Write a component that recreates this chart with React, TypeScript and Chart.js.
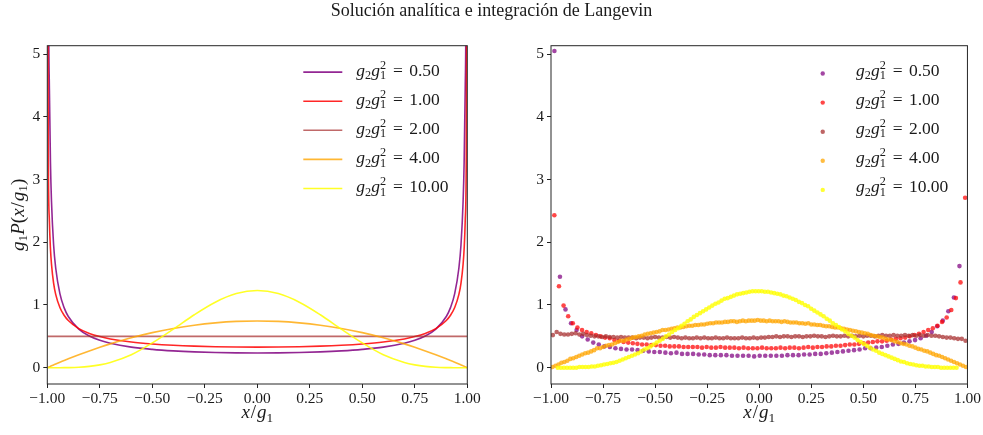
import React, { useEffect, useRef } from 'react';
import { Chart, registerables } from 'chart.js';

Chart.register(...registerables);

const FONT = '"Liberation Serif", "Times New Roman", serif';
const TEXT_COLOR = '#1a1a1a';

const TITLE = 'Solución analítica e integración de Langevin';
const G_VALUES = ['0.50', '1.00', '2.00', '4.00', '10.00'];
const LINE_COLORS = [
  'rgba(128,0,128,0.85)',
  'rgba(255,0,0,0.85)',
  'rgba(165,42,42,0.7)',
  'rgba(255,165,0,0.8)',
  'rgba(255,255,0,0.85)',
];
const DOT_COLORS = [
  'rgba(128,0,128,0.72)',
  'rgba(255,0,0,0.72)',
  'rgba(165,42,42,0.72)',
  'rgba(255,165,0,0.75)',
  'rgba(255,255,0,0.8)',
];

const X_TICKS_STEP = 0.25;
const Y_MIN = -0.26;
const Y_MAX = 5.135;

// ---------- Left panel: analytic solution (x grid + one value list per g2 g1^2) ----------
const LEFT_X = [
  -0.999, -0.995, -0.99, -0.985, -0.98, -0.97, -0.96, -0.94, -0.92, -0.9,
  -0.85, -0.8, -0.75, -0.7, -0.6, -0.5, -0.4, -0.3, -0.2, -0.1,
  0,
  0.1, 0.2, 0.3, 0.4, 0.5, 0.6, 0.7, 0.75, 0.8, 0.85,
  0.9, 0.92, 0.94, 0.96, 0.97, 0.98, 0.985, 0.99, 0.995, 0.999,
];
const AN_050 = [
  24.9, 7.45, 4.44, 3.28, 2.65, 1.96, 1.59, 1.18, 0.958, 0.817,
  0.615, 0.506, 0.437, 0.389, 0.328, 0.292, 0.268, 0.252, 0.242, 0.237,
  0.235,
  0.237, 0.242, 0.252, 0.268, 0.292, 0.328, 0.389, 0.437, 0.506, 0.615,
  0.817, 0.958, 1.18, 1.59, 1.96, 2.65, 3.28, 4.44, 7.45, 24.9,
];
const AN_100 = [
  7.34, 3.28, 2.33, 1.9, 1.65, 1.35, 1.17, 0.961, 0.837, 0.753,
  0.623, 0.547, 0.496, 0.459, 0.41, 0.379, 0.358, 0.344, 0.335, 0.33,
  0.328,
  0.33, 0.335, 0.344, 0.358, 0.379, 0.41, 0.459, 0.496, 0.547, 0.623,
  0.753, 0.837, 0.961, 1.17, 1.35, 1.65, 1.9, 2.33, 3.28, 7.34,
];
const AN_200 = [
  0.5, 0.5, 0.5, 0.5, 0.5, 0.5, 0.5, 0.5, 0.5, 0.5,
  0.5, 0.5, 0.5, 0.5, 0.5, 0.5, 0.5, 0.5, 0.5, 0.5,
  0.5,
  0.5, 0.5, 0.5, 0.5, 0.5, 0.5, 0.5, 0.5, 0.5, 0.5,
  0.5, 0.5, 0.5, 0.5, 0.5, 0.5, 0.5, 0.5, 0.5, 0.5,
];
const AN_400 = [
  0.0015, 0.0074, 0.0148, 0.0222, 0.0295, 0.044, 0.0584, 0.0867, 0.114, 0.142,
  0.207, 0.268, 0.326, 0.38, 0.477, 0.559, 0.626, 0.678, 0.715, 0.738,
  0.745,
  0.738, 0.715, 0.678, 0.626, 0.559, 0.477, 0.38, 0.326, 0.268, 0.207,
  0.142, 0.114, 0.0867, 0.0584, 0.044, 0.0295, 0.0222, 0.0148, 0.0074, 0.0015,
];
const AN_1000 = [
  0, 0, 0, 0, 0, 0, 0, 0.0002, 0.0007, 0.0016,
  0.0073, 0.021, 0.045, 0.083, 0.206, 0.395, 0.615, 0.845, 1.045, 1.182,
  1.23,
  1.182, 1.045, 0.845, 0.615, 0.395, 0.206, 0.083, 0.045, 0.021, 0.0073,
  0.0016, 0.0007, 0.0002, 0, 0, 0, 0, 0, 0, 0,
];

// ---------- Right panel: Langevin histograms (bin range + bin heights) ----------
const BINS_050 = [-0.997, 0.975];
const LV_050 = [
  5.05, 1.45, 0.93, 0.71, 0.6, 0.5, 0.45, 0.4, 0.37, 0.34,
  0.33, 0.31, 0.3, 0.29, 0.29, 0.28, 0.27, 0.26, 0.25, 0.25,
  0.24, 0.23, 0.24, 0.22, 0.22, 0.22, 0.21, 0.21, 0.2, 0.2,
  0.2, 0.2, 0.19, 0.19, 0.19, 0.19, 0.18, 0.19, 0.19, 0.19,
  0.19, 0.19, 0.2, 0.2, 0.2, 0.21, 0.21, 0.22, 0.22, 0.23,
  0.24, 0.25, 0.26, 0.27, 0.28, 0.29, 0.31, 0.31, 0.32, 0.33,
  0.35, 0.37, 0.38, 0.4, 0.42, 0.44, 0.47, 0.51, 0.57, 0.66,
  0.75, 0.9, 1.12, 1.62,
];
const BINS_100 = [-0.995, 1.0];
const LV_100 = [
  2.43, 1.3, 0.99, 0.82, 0.71, 0.64, 0.6, 0.57, 0.55, 0.52,
  0.5, 0.48, 0.47, 0.44, 0.43, 0.41, 0.4, 0.39, 0.38, 0.37,
  0.37, 0.36, 0.36, 0.35, 0.35, 0.34, 0.34, 0.34, 0.33, 0.33,
  0.33, 0.33, 0.32, 0.33, 0.32, 0.32, 0.33, 0.32, 0.32, 0.32,
  0.31, 0.32, 0.31, 0.31, 0.31, 0.32, 0.31, 0.31, 0.31, 0.32,
  0.31, 0.32, 0.32, 0.31, 0.32, 0.33, 0.32, 0.33, 0.33, 0.34,
  0.34, 0.35, 0.35, 0.36, 0.37, 0.37, 0.38, 0.39, 0.4, 0.41,
  0.42, 0.42, 0.43, 0.45, 0.46, 0.47, 0.48, 0.5, 0.52, 0.54,
  0.57, 0.6, 0.63, 0.67, 0.73, 0.8, 0.92, 1.11, 1.36, 2.71,
];
const BINS_200 = [-1, 1];
const LV_200 = [
  0.52, 0.57, 0.54, 0.53, 0.53, 0.54, 0.55, 0.53, 0.54, 0.52,
  0.51, 0.5, 0.5, 0.49, 0.5, 0.49, 0.49, 0.48, 0.49, 0.48,
  0.48, 0.48, 0.47, 0.48, 0.48, 0.47, 0.48, 0.49, 0.48, 0.48,
  0.49, 0.48, 0.49, 0.48, 0.47, 0.48, 0.47, 0.47, 0.48, 0.47,
  0.48, 0.47, 0.47, 0.48, 0.47, 0.47, 0.48, 0.47, 0.47, 0.47,
  0.48, 0.47, 0.47, 0.48, 0.47, 0.48, 0.48, 0.49, 0.49, 0.5,
  0.49, 0.5, 0.5, 0.49, 0.5, 0.5, 0.49, 0.5, 0.5, 0.51,
  0.5, 0.5, 0.49, 0.5, 0.51, 0.5, 0.5, 0.51, 0.5, 0.51,
  0.5, 0.51, 0.5, 0.51, 0.51, 0.5, 0.51, 0.52, 0.51, 0.51,
  0.52, 0.51, 0.51, 0.52, 0.51, 0.52, 0.51, 0.52, 0.51, 0.52,
  0.51, 0.51, 0.5, 0.49, 0.48, 0.48, 0.47, 0.46, 0.46, 0.43,
];
const BINS_400 = [-1, 1];
const LV_400 = [
  0.01, 0.03, 0.05, 0.08, 0.09, 0.11, 0.14, 0.15, 0.17, 0.19,
  0.21, 0.23, 0.24, 0.26, 0.28, 0.31, 0.31, 0.33, 0.35, 0.36,
  0.37, 0.39, 0.41, 0.43, 0.43, 0.45, 0.46, 0.48, 0.49, 0.5,
  0.51, 0.53, 0.54, 0.55, 0.56, 0.57, 0.58, 0.6, 0.6, 0.61,
  0.62, 0.63, 0.64, 0.64, 0.65, 0.66, 0.67, 0.67, 0.68, 0.68,
  0.69, 0.69, 0.7, 0.71, 0.71, 0.72, 0.72, 0.72, 0.73, 0.73,
  0.74, 0.74, 0.73, 0.74, 0.75, 0.74, 0.75, 0.75, 0.75, 0.76,
  0.75, 0.75, 0.74, 0.75, 0.74, 0.74, 0.74, 0.73, 0.74, 0.73,
  0.72, 0.72, 0.72, 0.71, 0.71, 0.7, 0.71, 0.69, 0.69, 0.68,
  0.68, 0.67, 0.66, 0.66, 0.65, 0.64, 0.64, 0.63, 0.62, 0.61,
  0.6, 0.59, 0.58, 0.57, 0.56, 0.55, 0.54, 0.52, 0.51, 0.5,
  0.49, 0.48, 0.46, 0.45, 0.44, 0.42, 0.41, 0.39, 0.38, 0.37,
  0.35, 0.34, 0.32, 0.3, 0.29, 0.27, 0.26, 0.24, 0.22, 0.2,
  0.19, 0.17, 0.15, 0.13, 0.11, 0.09, 0.07, 0.05, 0.03, 0.01,
];
const BINS_1000 = [-0.975, 0.955];
const LV_1000 = [
  0, 0, 0, 0, 0, 0, 0, 0.01, 0.01, 0.01,
  0.01, 0.02, 0.02, 0.03, 0.04, 0.05, 0.06, 0.07, 0.08, 0.09,
  0.11, 0.13, 0.15, 0.17, 0.19, 0.21, 0.23, 0.26, 0.29, 0.31,
  0.34, 0.37, 0.4, 0.43, 0.46, 0.5, 0.53, 0.57, 0.6, 0.63,
  0.67, 0.7, 0.74, 0.77, 0.81, 0.84, 0.87, 0.9, 0.93, 0.96,
  0.99, 1.02, 1.04, 1.07, 1.1, 1.11, 1.13, 1.15, 1.17, 1.18,
  1.19, 1.2, 1.21, 1.22, 1.22, 1.22, 1.22, 1.21, 1.21, 1.2,
  1.19, 1.18, 1.17, 1.15, 1.14, 1.12, 1.1, 1.08, 1.05, 1.03,
  1.0, 0.98, 0.94, 0.91, 0.88, 0.85, 0.82, 0.78, 0.75, 0.71,
  0.68, 0.65, 0.61, 0.58, 0.54, 0.51, 0.48, 0.44, 0.41, 0.38,
  0.35, 0.32, 0.29, 0.27, 0.24, 0.22, 0.2, 0.18, 0.16, 0.14,
  0.12, 0.1, 0.09, 0.07, 0.06, 0.05, 0.04, 0.03, 0.03, 0.02,
  0.02, 0.01, 0.01, 0.01, 0, 0, 0, 0, 0, 0,
];

const ANALYTIC = [AN_050, AN_100, AN_200, AN_400, AN_1000];
const LANGEVIN = [LV_050, LV_100, LV_200, LV_400, LV_1000];
const LANGEVIN_BINS = [BINS_050, BINS_100, BINS_200, BINS_400, BINS_1000];

// ---------- math-like text rendering ----------
type Tok = { t?: string; it?: boolean; sub?: boolean; sup?: boolean; stack?: [string, string]; gap?: number };

function drawMath(ctx: CanvasRenderingContext2D, toks: Tok[], x: number, y: number, size: number, draw = true): number {
  let cx = x;
  ctx.textBaseline = 'alphabetic';
  ctx.textAlign = 'left';
  for (const tk of toks) {
    if (tk.gap !== undefined) {
      cx += tk.gap * size;
      continue;
    }
    if (tk.stack) {
      const s = size * 0.7;
      ctx.font = `${s}px ${FONT}`;
      const w1 = ctx.measureText(tk.stack[0]).width;
      const w2 = ctx.measureText(tk.stack[1]).width;
      if (draw) {
        ctx.fillText(tk.stack[0], cx, y - size * 0.4);
        ctx.fillText(tk.stack[1], cx, y + size * 0.2);
      }
      cx += Math.max(w1, w2);
      continue;
    }
    const small = tk.sub || tk.sup;
    const s = small ? size * 0.7 : size;
    ctx.font = `${tk.it ? 'italic ' : ''}${s}px ${FONT}`;
    const dy = tk.sub ? size * 0.2 : tk.sup ? -size * 0.4 : 0;
    if (draw) ctx.fillText(tk.t || '', cx, y + dy);
    cx += ctx.measureText(tk.t || '').width;
  }
  return cx - x;
}

function legendToks(v: string): Tok[] {
  return [
    { t: 'g', it: true },
    { t: '2', sub: true },
    { t: 'g', it: true },
    { stack: ['2', '1'] },
    { gap: 0.4 },
    { t: '=' },
    { gap: 0.36 },
    { t: v },
  ];
}

const X_TITLE: Tok[] = [{ t: 'x', it: true }, { gap: 0.05 }, { t: '/' }, { gap: 0.05 }, { t: 'g', it: true }, { t: '1', sub: true }];
const Y_TITLE: Tok[] = [
  { t: 'g', it: true }, { t: '1', sub: true }, { t: 'P', it: true }, { t: '(' }, { t: 'x', it: true },
  { gap: 0.05 }, { t: '/' }, { gap: 0.05 }, { t: 'g', it: true }, { t: '1', sub: true }, { t: ')' },
];

function fmtX(v: number | string): string {
  const n = Number(v);
  const s = Math.abs(n) < 1e-9 ? '0.00' : n.toFixed(2);
  return s.replace('-', '\u2212');
}
function fmtY(v: number | string): string {
  const n = Math.round(Number(v));
  return String(n).replace('-', '\u2212');
}

function xScale(): any {
  return {
    type: 'linear',
    min: -1,
    max: 1,
    ticks: {
      stepSize: X_TICKS_STEP,
      autoSkip: false,
      maxRotation: 0,
      minRotation: 0,
      includeBounds: false,
      color: TEXT_COLOR,
      font: { family: FONT, size: 15.5 },
      padding: 2,
      callback: fmtX,
    },
    grid: { drawOnChartArea: false, drawTicks: true, tickLength: 4, color: '#222', lineWidth: 1 },
    border: { display: false },
    afterFit: (s: any) => {
      s.height = 51;
    },
  };
}
function yScale(width: number): any {
  return {
    type: 'linear',
    min: Y_MIN,
    max: Y_MAX,
    ticks: {
      stepSize: 1,
      includeBounds: false,
      color: TEXT_COLOR,
      font: { family: FONT, size: 15.5 },
      padding: 3,
      callback: fmtY,
    },
    grid: { drawOnChartArea: false, drawTicks: true, tickLength: 4, color: '#222', lineWidth: 1 },
    border: { display: false },
    afterFit: (s: any) => {
      s.width = width;
    },
  };
}

function framePlugin(kind: 'line' | 'dot', withYTitle: boolean): any {
  return {
    id: 'frameAndText' + kind,
    afterDraw(chart: any) {
      const ctx: CanvasRenderingContext2D = chart.ctx;
      const a = chart.chartArea;
      ctx.save();
      ctx.strokeStyle = '#262626';
      ctx.lineWidth = 1;
      ctx.strokeRect(a.left, a.top, a.right - a.left, a.bottom - a.top);

      // legend
      ctx.fillStyle = TEXT_COLOR;
      const size = 17.5;
      chart.data.datasets.forEach((ds: any, i: number) => {
        const base = a.top + 30 + i * 29.1;
        if (kind === 'line') {
          ctx.strokeStyle = ds.borderColor;
          ctx.lineWidth = 1.6;
          ctx.beginPath();
          ctx.moveTo(a.right - 164, base - 3.6);
          ctx.lineTo(a.right - 125, base - 3.6);
          ctx.stroke();
          ctx.fillStyle = TEXT_COLOR;
          drawMath(ctx, legendToks(G_VALUES[i]), a.right - 111, base, size);
        } else {
          ctx.fillStyle = ds.backgroundColor;
          ctx.beginPath();
          ctx.arc(a.right - 144.7, base - 2.2, 2.2, 0, Math.PI * 2);
          ctx.fill();
          ctx.fillStyle = TEXT_COLOR;
          drawMath(ctx, legendToks(G_VALUES[i]), a.right - 111.4, base, size);
        }
      });

      // axis titles
      const ts = 19;
      ctx.fillStyle = TEXT_COLOR;
      const wx = drawMath(ctx, X_TITLE, 0, 0, ts, false);
      drawMath(ctx, X_TITLE, (a.left + a.right) / 2 - wx / 2, a.bottom + 34, ts);
      if (withYTitle) {
        const wy = drawMath(ctx, Y_TITLE, 0, 0, ts, false);
        ctx.translate(23.5, (a.top + a.bottom) / 2);
        ctx.rotate(-Math.PI / 2);
        drawMath(ctx, Y_TITLE, -wy / 2, 0, ts);
      }
      ctx.restore();
    },
  };
}

function leftConfig(): any {
  return {
    type: 'line',
    data: {
      datasets: ANALYTIC.map((vals, i) => ({
        label: `g\u2082g\u2081\u00b2 = ${G_VALUES[i]}`,
        data: LEFT_X.map((x, j) => ({ x, y: vals[j] })),
        borderColor: LINE_COLORS[i],
        backgroundColor: LINE_COLORS[i],
        borderWidth: 1.6,
        pointRadius: 0,
        fill: false,
        cubicInterpolationMode: 'monotone',
        order: 5 - i,
      })),
    },
    options: {
      animation: false,
      responsive: false,
      devicePixelRatio: 1,
      events: [],
      layout: { padding: { left: 0, right: 491 - 467.3, top: 45.7, bottom: 0 } },
      plugins: { legend: { display: false }, tooltip: { enabled: false }, title: { display: false } },
      scales: { x: xScale(), y: yScale(47.3) },
    },
    plugins: [framePlugin('line', true)],
  };
}

function rightConfig(): any {
  return {
    type: 'scatter',
    data: {
      datasets: LANGEVIN.map((vals, i) => {
        const [lo, hi] = LANGEVIN_BINS[i];
        const w = (hi - lo) / vals.length;
        return {
          label: `g\u2082g\u2081\u00b2 = ${G_VALUES[i]}`,
          data: vals.map((y, j) => ({ x: lo + (j + 0.5) * w, y })),
          backgroundColor: DOT_COLORS[i],
          borderWidth: 0,
          pointRadius: 2.3,
          pointHoverRadius: 0,
          order: 5 - i,
        };
      }),
    },
    options: {
      animation: false,
      responsive: false,
      devicePixelRatio: 1,
      events: [],
      layout: { padding: { left: 0, right: 492 - (970.7 - 491), top: 45.7, bottom: 0 } },
      plugins: { legend: { display: false }, tooltip: { enabled: false }, title: { display: false } },
      scales: { x: xScale(), y: yScale(60) },
    },
    plugins: [framePlugin('dot', false)],
  };
}

export default function App() {
  const leftRef = useRef<HTMLCanvasElement>(null);
  const rightRef = useRef<HTMLCanvasElement>(null);
  useEffect(() => {
    const c1 = new Chart(leftRef.current as HTMLCanvasElement, leftConfig());
    const c2 = new Chart(rightRef.current as HTMLCanvasElement, rightConfig());
    return () => {
      c1.destroy();
      c2.destroy();
    };
  }, []);
  return (
    <div style={{ position: 'absolute', left: 0, top: 0, width: 983, height: 435, background: '#fff', overflow: 'hidden' }}>
      <canvas ref={leftRef} width={491} height={435} style={{ position: 'absolute', left: 0, top: 0, width: 491, height: 435 }} />
      <canvas ref={rightRef} width={492} height={435} style={{ position: 'absolute', left: 491, top: 0, width: 492, height: 435 }} />
      <div
        style={{
          position: 'absolute',
          left: 0,
          top: 0,
          width: 983,
          textAlign: 'center',
          fontFamily: FONT,
          fontSize: 18,
          lineHeight: '20px',
          color: TEXT_COLOR,
        }}
      >
        {TITLE}
      </div>
    </div>
  );
}
